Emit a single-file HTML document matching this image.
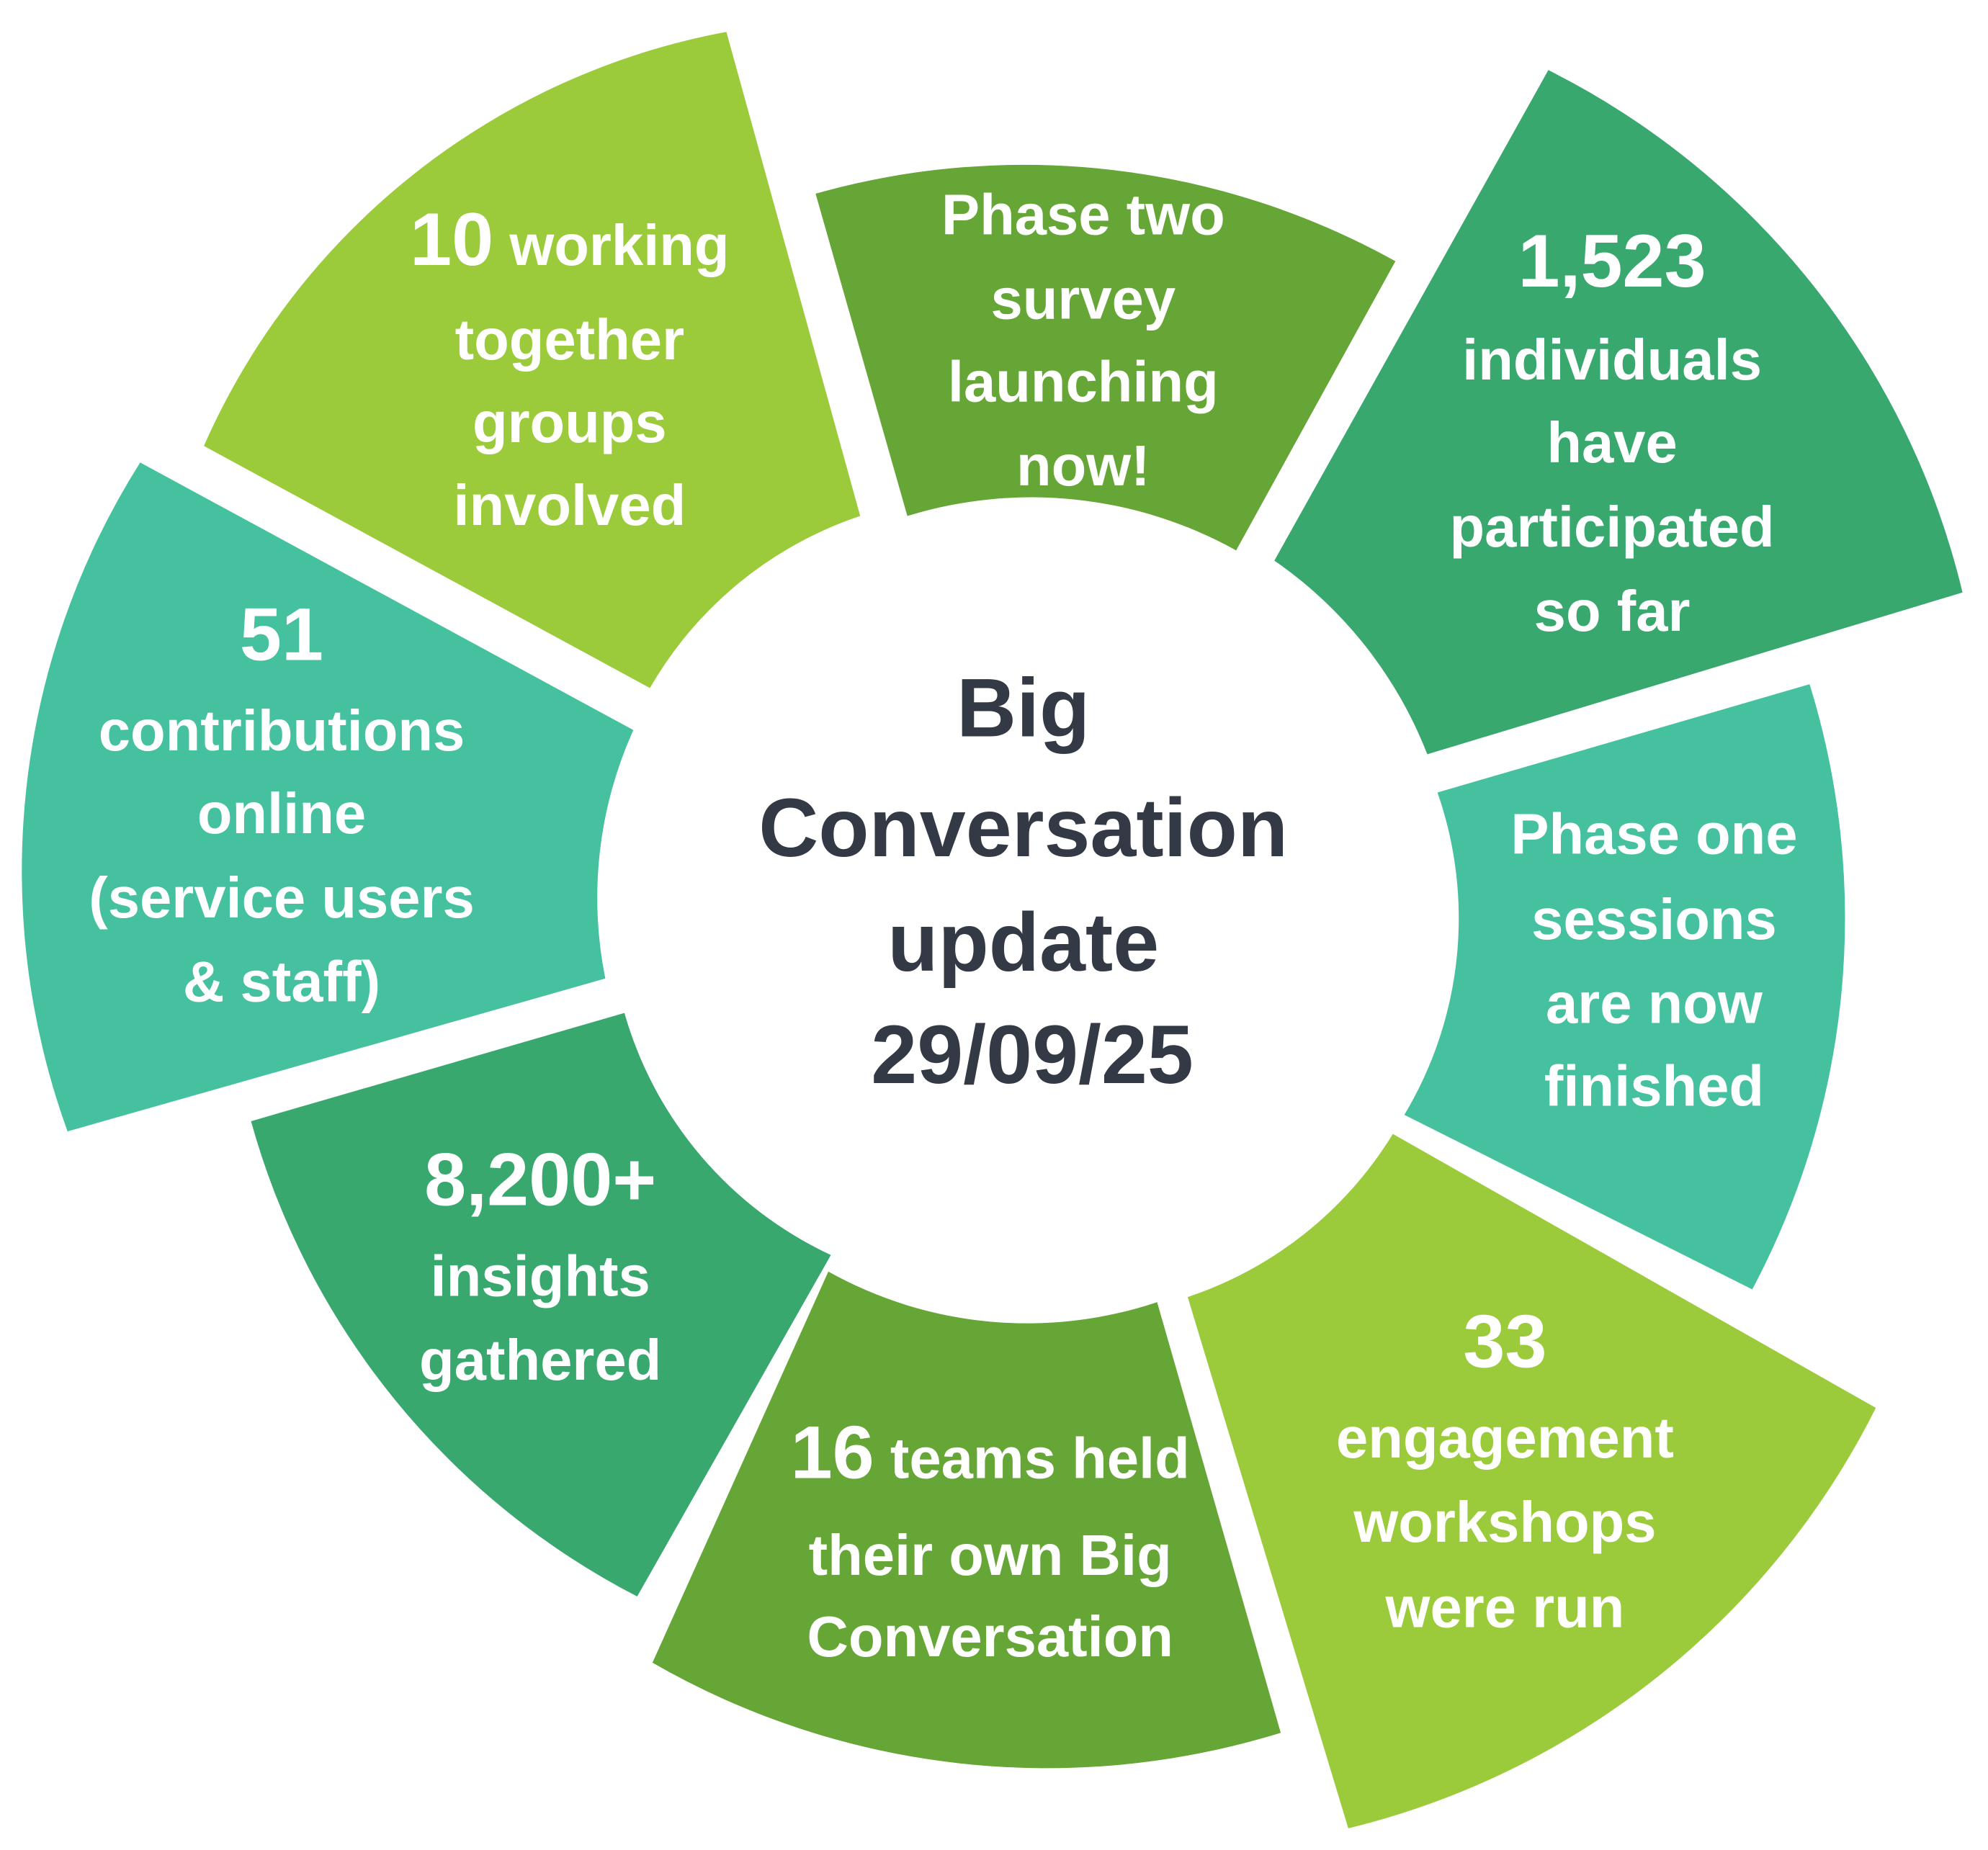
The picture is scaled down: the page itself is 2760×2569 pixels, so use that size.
<!DOCTYPE html>
<html><head><meta charset="utf-8"><style>
html,body{margin:0;padding:0;background:#fff;}
svg{display:block;}
text{font-family:"Liberation Sans",Arial,sans-serif;font-weight:bold;}
.w{fill:#fff;font-size:45px;text-anchor:middle;}
.b{font-size:59px;}
.c{fill:#333a45;font-size:65px;text-anchor:middle;}
</style></head><body>
<svg width="2760" height="2569" viewBox="0 0 1560 1452" preserveAspectRatio="none" xmlns="http://www.w3.org/2000/svg">
<rect width="1560" height="1452" fill="#fff"/>
<path d="M160,350 A560 560 0 0 1 570,25 L675,405 A300 300 0 0 0 510,540 Z" fill="#9bcb3b"/>
<path d="M640,152 A600 600 0 0 1 1095,205 L970,432 A330 330 0 0 0 712,405 Z" fill="#65a637"/>
<path d="M1000,440 L1215,55 A620 620 0 0 1 1540,465 L1120,592 A330 330 0 0 0 1000,440 Z" fill="#38a86e"/>
<path d="M1128,622 L1420,537 A620 620 0 0 1 1375,1012 L1102,875 A300 300 0 0 0 1128,622 Z" fill="#45c1a0"/>
<path d="M1093,890 L1472,1105 A630 630 0 0 1 1058,1435 L932,1018 A300 300 0 0 0 1093,890 Z" fill="#9bcb3b"/>
<path d="M650,998 A320 320 0 0 0 908,1022 L1005,1360 A620 620 0 0 1 512,1305 Z" fill="#65a637"/>
<path d="M197,880 L490,795 A300 300 0 0 0 652,985 L500,1253 A600 600 0 0 1 197,880 Z" fill="#38a86e"/>
<path d="M53,888 A600 600 0 0 1 110,363 L497,573 A320 320 0 0 0 475,768 Z" fill="#45c1a0"/>

<text class="w" x="447" y="208"><tspan class="b">10</tspan> working</text>
<text class="w" x="447" y="282">together</text>
<text class="w" x="447" y="347">groups</text>
<text class="w" x="447" y="412">involved</text>

<text class="w" x="850" y="184">Phase two</text>
<text class="w" x="850" y="250">survey</text>
<text class="w" x="850" y="315">launching</text>
<text class="w" x="850" y="381">now!</text>

<text class="w b" x="1265" y="225">1,523</text>
<text class="w" x="1265" y="298">individuals</text>
<text class="w" x="1265" y="363">have</text>
<text class="w" x="1265" y="429">participated</text>
<text class="w" x="1265" y="495">so far</text>

<text class="w" x="1298" y="670">Phase one</text>
<text class="w" x="1298" y="737">sessions</text>
<text class="w" x="1298" y="803">are now</text>
<text class="w" x="1298" y="868">finished</text>

<text class="w b" x="1181" y="1073">33</text>
<text class="w" x="1181" y="1144">engagement</text>
<text class="w" x="1181" y="1210">workshops</text>
<text class="w" x="1181" y="1277">were run</text>

<text class="w" x="777" y="1160"><tspan class="b">16</tspan> teams held</text>
<text class="w" x="777" y="1236">their own Big</text>
<text class="w" x="777" y="1300">Conversation</text>

<text class="w b" x="424" y="946">8,200+</text>
<text class="w" x="424" y="1017">insights</text>
<text class="w" x="424" y="1083">gathered</text>

<text class="w b" x="221" y="518">51</text>
<text class="w" x="221" y="589">contributions</text>
<text class="w" x="221" y="654">online</text>
<text class="w" x="221" y="720">(service users</text>
<text class="w" x="221" y="786">&amp; staff)</text>

<text class="c" x="803" y="578">Big</text>
<text class="c" x="803" y="672">Conversation</text>
<text class="c" x="803" y="762">update</text>
<text class="c" x="810" y="850">29/09/25</text>
</svg>
</body></html>
